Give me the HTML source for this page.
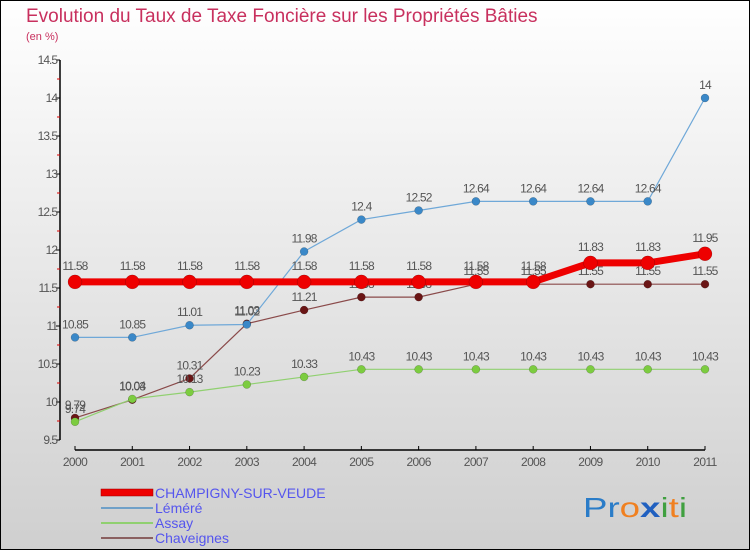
<!DOCTYPE html>
<html><head><meta charset="utf-8"><style>
body{margin:0}
svg{display:block;font-family:"Liberation Sans",sans-serif}
</style></head><body>
<svg id="c" width="750" height="550" xmlns="http://www.w3.org/2000/svg">
<defs><linearGradient id="bg" x1="0" y1="0" x2="0" y2="1"><stop offset="0" stop-color="#ffffff"/><stop offset="1" stop-color="#cfcfcf"/></linearGradient></defs>
<rect x="0" y="0" width="750" height="550" fill="url(#bg)"/>
<rect x="0.5" y="0.5" width="749" height="549" fill="none" stroke="#000"/>
<text x="26" y="22" font-size="19" fill="#c8305e">Evolution du Taux de Taxe Foncière sur les Propriétés Bâties</text>
<text x="26" y="40" font-size="11" fill="#c8305e">(en %)</text>
<g id="axes"></g>
<g id="series"></g>
<g>
<rect x="101" y="489" width="52" height="7" fill="#e00" stroke="#900" stroke-width="0.5"/>
<text x="155" y="498" font-size="14" fill="#5555ee">CHAMPIGNY-SUR-VEUDE</text>
<line x1="101" y1="508" x2="153" y2="508" stroke="#6fa0c8" stroke-width="2"/>
<text x="155" y="513" font-size="14" fill="#5555ee">Léméré</text>
<line x1="101" y1="523" x2="153" y2="523" stroke="#90d070" stroke-width="2"/>
<text x="155" y="528" font-size="14" fill="#5555ee">Assay</text>
<line x1="101" y1="538" x2="153" y2="538" stroke="#8a6060" stroke-width="2"/>
<text x="155" y="543" font-size="14" fill="#5555ee">Chaveignes</text>
</g>
<g font-size="28">
<text x="583" y="517" textLength="104" lengthAdjust="spacingAndGlyphs"><tspan fill="#2a7cc8">Pr</tspan><tspan fill="#f08020">o</tspan><tspan fill="#2060c0" font-weight="bold">x</tspan><tspan fill="#40a040">i</tspan><tspan fill="#f08020">t</tspan><tspan fill="#40a040">i</tspan></text>
</g>
</svg>
<script>
const years=["2000","2001","2002","2003","2004","2005","2006","2007","2008","2009","2010","2011"];
const yTicks=[9.5,10,10.5,11,11.5,12,12.5,13,13.5,14,14.5];
const champigny=[11.58,11.58,11.58,11.58,11.58,11.58,11.58,11.58,11.58,11.83,11.83,11.95];
const lemere=[10.85,10.85,11.01,11.02,11.98,12.4,12.52,12.64,12.64,12.64,12.64,14];
const assay=[9.74,10.04,10.13,10.23,10.33,10.43,10.43,10.43,10.43,10.43,10.43,10.43];
const chaveignes=[9.79,10.03,10.31,11.03,11.21,11.38,11.38,11.55,11.55,11.55,11.55,11.55];
const NS="http://www.w3.org/2000/svg";
const xS=i=>75+i*(630/11);
const yS=v=>440-(v-9.5)*76;
function mk(tag,attrs,parent){const e=document.createElementNS(NS,tag);for(const k in attrs)e.setAttribute(k,attrs[k]);parent.appendChild(e);return e;}
const ax=document.getElementById('axes');
let l=mk('line',{x1:60,y1:60,x2:60,y2:440,stroke:'#000','stroke-width':1.5},ax);


l=mk('line',{x1:75,y1:450,x2:705,y2:450,stroke:'#000','stroke-width':1.5},ax);


yTicks.forEach((v,i)=>{
  mk('line',{x1:56,y1:yS(v),x2:60,y2:yS(v),stroke:'#000'},ax);
  if(i<yTicks.length-1)mk('line',{x1:57,y1:yS(v+0.25),x2:60,y2:yS(v+0.25),stroke:'#d00'},ax);
  const t=mk('text',{x:57,y:yS(v)+4,'text-anchor':'end','font-size':12,fill:'#555','letter-spacing':'-1'},ax);
  t.textContent=String(v);
  
  
});
years.forEach((y,i)=>{
  mk('line',{x1:xS(i),y1:446,x2:xS(i),y2:450,stroke:'#000'},ax);
  const t=mk('text',{x:xS(i),y:466,'text-anchor':'middle','font-size':12,fill:'#555','letter-spacing':'-0.6'},ax);
  t.textContent=y;
  
  
});
const sg=document.getElementById('series');
function draw(name,data,color,dot,w,r,labels){
  const g=mk('g',{},sg);
  
  
  const p=mk('polyline',{points:data.map((v,i)=>xS(i)+','+yS(v)).join(' '),fill:'none',stroke:color,'stroke-width':w},g);
  
  
  data.forEach((v,i)=>{
    const c=mk('circle',{cx:xS(i),cy:yS(v),r:r,fill:dot,stroke:'rgba(0,0,0,0.3)','stroke-width':0.5},g);
    
    
    if(labels){
      const t=mk('text',{x:xS(i),y:yS(v)-(r+5),'text-anchor':'middle','font-size':12,fill:'#555','letter-spacing':'-0.8'},g);
      t.textContent=String(v);
      
      
    }
  });
}
draw('chaveignes',chaveignes,'#8a4a4a','#6a1515',1.2,4,true);
draw('assay',assay,'#90d070','#7ccc40',1.2,4,true);
draw('lemere',lemere,'#6fa8d8','#3a88c8',1.2,4,true);
draw('champigny',champigny,'#ee0000','#ee0000',7,7,true);
</script>
</body></html>
